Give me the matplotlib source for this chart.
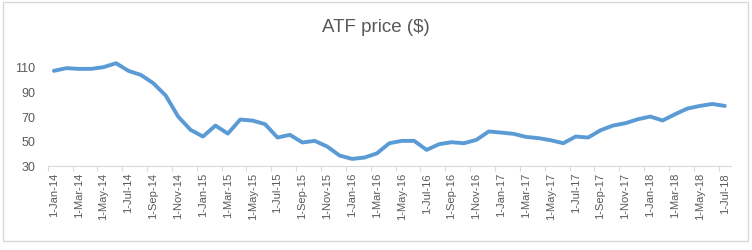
import pandas as pd
import matplotlib.pyplot as plt
from matplotlib.patches import Rectangle

# monthly ATF price, Jan 2014 .. Jul 2018
months = pd.date_range("2014-01-01", "2018-07-01", freq="MS")
month_labels = [f"{d.day}-{d.strftime('%b-%y')}" for d in months]

price = [
    106.8, 109.0, 108.4, 108.4, 109.8, 113.0, 106.8, 103.5, 96.8, 86.8,
    69.8, 59.0, 53.6, 62.5, 56.0, 67.4, 66.5, 63.6, 52.8, 55.0,
    48.8, 50.1, 45.5, 38.2, 35.5, 36.6, 40.0, 48.2, 50.1, 50.1,
    42.8, 47.4, 49.0, 48.2, 50.9, 57.7, 56.8, 55.8, 53.3, 52.3,
    50.6, 48.2, 53.6, 52.8, 58.7, 62.5, 64.4, 67.6, 69.8, 66.6,
    71.7, 76.3, 78.4, 80.0, 78.4,
]
y_ticks = [30, 50, 70, 90, 110]

GRAY_TXT = "#595959"
GRAY_LN = "#d9d9d9"
BLUE = "#5B9BD5"

plt.rcParams["font.family"] = ["Liberation Sans", "DejaVu Sans"]

fig = plt.figure(figsize=(7.52, 2.51), dpi=100)
ax = fig.add_axes([0.0634, 0.3359, 0.9087, 0.4428])

x = list(range(len(price)))
ax.plot(x, price, color=BLUE, lw=2.8, solid_joinstyle="round", solid_capstyle="round")

ax.set_xlim(-0.5, len(price) - 0.5)
ax.set_ylim(30, 120)
ax.set_yticks(y_ticks)
ax.set_yticklabels([str(v) for v in y_ticks], color=GRAY_TXT, fontsize=9)
ax.tick_params(axis="y", length=0, pad=9)

ax.set_xticks(x[::2])
ax.set_xticklabels(month_labels[::2], rotation=90, color=GRAY_TXT, fontsize=8)
ax.set_xticks([i - 0.5 for i in x[::2]], minor=True)
ax.tick_params(axis="x", which="major", length=0, pad=4.5)
ax.tick_params(axis="x", which="minor", length=3.6, color=GRAY_LN, width=0.8)

for s in ["left", "right", "top"]:
    ax.spines[s].set_visible(False)
ax.spines["bottom"].set_color(GRAY_LN)
ax.spines["bottom"].set_linewidth(0.8)

fig.text(0.5, 1 - 28 / 251, "ATF price ($)", ha="center", va="center",
         fontsize=13.5, color=GRAY_TXT)

fig.patches.append(Rectangle((2.5 / 752, 1 - 242 / 251), 745.5 / 752, 238.7 / 251,
                             transform=fig.transFigure, fill=False,
                             edgecolor=GRAY_LN, lw=1))

fig.savefig("out.png", dpi=100)
